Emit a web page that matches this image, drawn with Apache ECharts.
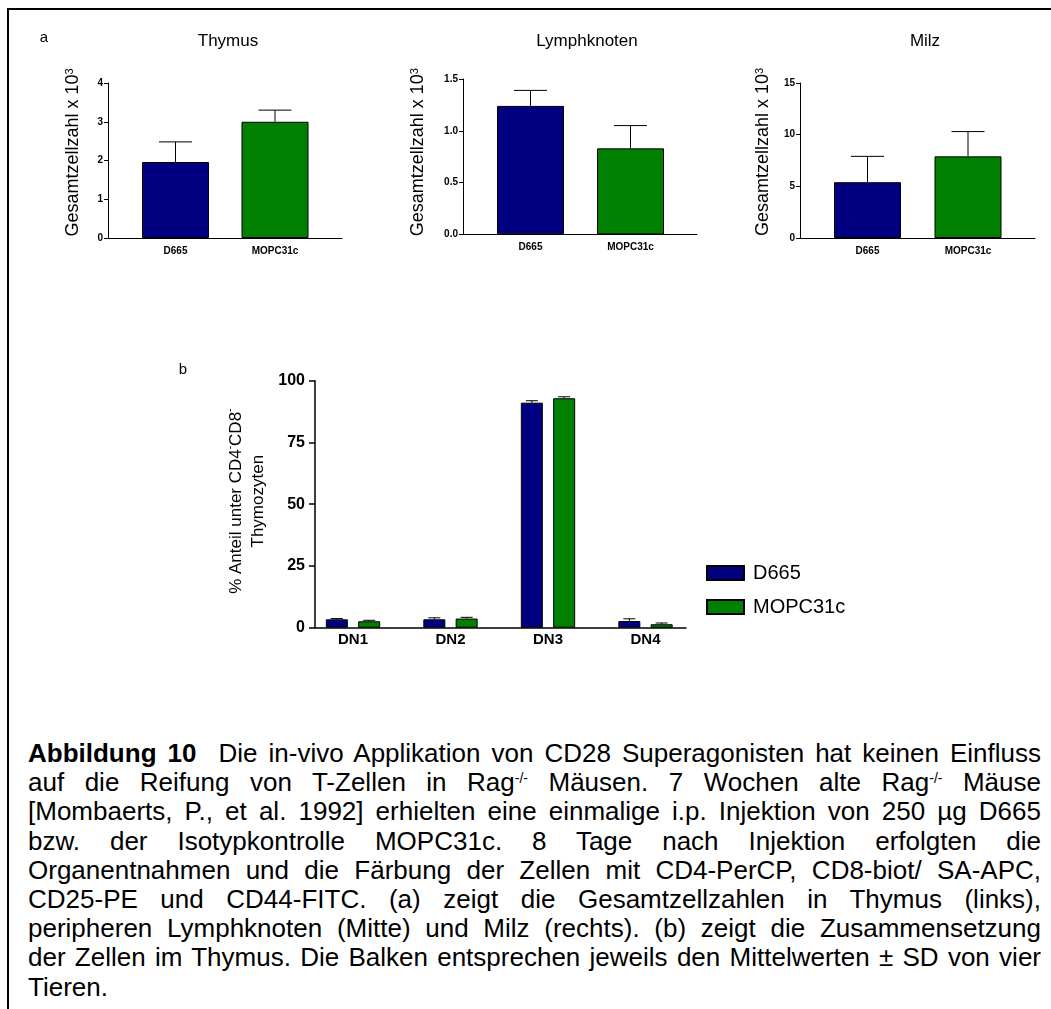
<!DOCTYPE html>
<html>
<head>
<meta charset="utf-8">
<script src="https://cdn.jsdelivr.net/npm/echarts@6/dist/echarts.min.js"></script>
<style>
  html, body { margin: 0; padding: 0; background: #fff; }
  #wrap { position: relative; width: 1051px; height: 1009px; overflow: hidden; }
  #chart { position: absolute; left: 0; top: 0; width: 1051px; height: 700px; }
  #frame { position: absolute; left: 7px; top: 8px; width: 1100px; height: 1100px;
           border-top: 2px solid #000; border-left: 2px solid #000; }
  #caption { position: absolute; left: 28px; top: 739px; width: 1013px;
             font-family: "Liberation Sans", Arial, sans-serif; font-size: 26px;
             line-height: 29.2px; color: #000; }
  #caption div { text-align: justify; text-align-last: justify; }
  #caption div.last { text-align: left; text-align-last: left; }
  #caption sup { font-size: 14px; line-height: 0; vertical-align: 0.6em; }
</style>
</head>
<body>
<div id="wrap">
  <div id="frame"></div>
  <div id="chart"></div>
  <div id="caption">
    <div><b>Abbildung 10</b>&nbsp; Die in-vivo Applikation von CD28 Superagonisten hat keinen Einfluss</div>
    <div>auf die Reifung von T-Zellen in Rag<sup>-/-</sup> Mäusen. 7 Wochen alte Rag<sup>-/-</sup> Mäuse</div>
    <div>[Mombaerts, P., et al. 1992] erhielten eine einmalige i.p. Injektion von 250 µg D665</div>
    <div>bzw. der Isotypkontrolle MOPC31c. 8 Tage nach Injektion erfolgten die</div>
    <div>Organentnahmen und die Färbung der Zellen mit CD4-PerCP, CD8-biot/ SA-APC,</div>
    <div>CD25-PE und CD44-FITC. (a) zeigt die Gesamtzellzahlen in Thymus (links),</div>
    <div>peripheren Lymphknoten (Mitte) und Milz (rechts). (b) zeigt die Zusammensetzung</div>
    <div>der Zellen im Thymus. Die Balken entsprechen jeweils den Mittelwerten ± SD von vier</div>
    <div class="last">Tieren.</div>
  </div>
</div>
<script>
// panel a: total cell counts (x 10^3), mean and SD
const groups = ['D665', 'MOPC31c'];
const groupColors = ['#000080', '#008000'];
const thymusMean = [1.96, 3.0];
const thymusSD = [0.52, 0.3];
const lymphMean = [1.24, 0.83];
const lymphSD = [0.15, 0.22];
const milzMean = [5.4, 7.9];
const milzSD = [2.5, 2.4];
// y axis ranges [min, max, interval]
const thymusAxis = [0, 4, 1];
const lymphAxis = [0, 1.5, 0.5];
const milzAxis = [0, 15, 5];

// panel b: DN subsets in % of CD4-CD8- thymocytes
const stages = ['DN1', 'DN2', 'DN3', 'DN4'];
const d665Mean = [3.4, 3.4, 91.1, 2.7];
const d665SD = [0.3, 0.6, 0.8, 0.9];
const mopcMean = [2.6, 3.7, 92.9, 1.4];
const mopcSD = [0.4, 0.5, 0.6, 0.5];
const dnAxis = [0, 100, 25];

const FONT = '"Liberation Sans", Arial, sans-serif';
const chart = echarts.init(document.getElementById('chart'));

// upper error whisker drawn through the axis scales
function errRender(offset, cap) {
  return function (params, api) {
    const x = api.value(0), m = api.value(1), sd = api.value(2);
    const base = api.coord([x, m]);
    const top = api.coord([x, m + sd]);
    const cx = base[0] + offset;
    const st = { stroke: '#000', lineWidth: 1 };
    return {
      type: 'group',
      children: [
        { type: 'line', shape: { x1: cx, y1: base[1], x2: cx, y2: top[1] }, style: st },
        { type: 'line', shape: { x1: cx - cap / 2, y1: top[1], x2: cx + cap / 2, y2: top[1] }, style: st }
      ]
    };
  };
}

// each panel: a "bar" grid for the marks and an "axis" grid for the drawn axes
const panels = [
  { mean: thymusMean, sd: thymusSD, ax: thymusAxis, bar: [125.75, 83, 199, 155], axis: [108, 83, 234, 155], gap: 26, shift: 16, fmt: v => String(v) },
  { mean: lymphMean, sd: lymphSD, ax: lymphAxis, bar: [480.5, 79, 200, 155.3], axis: [463, 79, 234, 155.3], gap: 36, shift: 9, fmt: v => v.toFixed(1) },
  { mean: milzMean, sd: milzSD, ax: milzAxis, bar: [817.25, 83, 201, 155], axis: [800, 83, 235, 155], gap: 28, shift: 17, fmt: v => String(v) }
];

const grid = [], xAxis = [], yAxis = [], series = [];

panels.forEach((p, i) => {
  const bi = grid.length;
  grid.push({ left: p.bar[0], top: p.bar[1], width: p.bar[2], height: p.bar[3] });
  grid.push({ left: p.axis[0], top: p.axis[1], width: p.axis[2], height: p.axis[3] });
  xAxis.push({
    type: 'category', gridIndex: bi, data: groups,
    axisLine: { show: false }, axisTick: { show: false },
    axisLabel: { color: '#000', fontFamily: FONT, fontWeight: 'bold', fontSize: 10, margin: 8 }
  });
  xAxis.push({
    type: 'category', gridIndex: bi + 1, data: groups,
    axisLine: { lineStyle: { color: '#000', width: 1 } },
    axisTick: { show: false }, axisLabel: { show: false }
  });
  yAxis.push({ type: 'value', gridIndex: bi, min: p.ax[0], max: p.ax[1], show: false });
  yAxis.push({
    type: 'value', gridIndex: bi + 1, min: p.ax[0], max: p.ax[1], interval: p.ax[2],
    splitLine: { show: false },
    axisLine: { show: true, lineStyle: { color: '#000', width: 1 } },
    axisTick: { show: true, length: 4, lineStyle: { color: '#000' } },
    axisLabel: { color: '#000', fontFamily: FONT, fontWeight: 'bold', fontSize: 10, margin: 5, formatter: p.fmt },
    name: 'Gesamtzellzahl x 10{sup|3}',
    nameLocation: 'middle', nameRotate: 90, nameGap: p.gap,
    nameTextStyle: {
      color: '#000', fontFamily: FONT, fontSize: 18, padding: [0, 0, 0, p.shift],
      rich: { sup: { fontSize: 11, fontFamily: FONT, color: '#000', verticalAlign: 'top', lineHeight: 12 } }
    }
  });
  series.push({
    type: 'bar', xAxisIndex: bi, yAxisIndex: bi, barWidth: 67,
    data: p.mean.map((v, k) => ({ value: v, itemStyle: { color: groupColors[k] } })),
    itemStyle: { borderColor: '#000', borderWidth: 1 },
    silent: true
  });
  series.push({
    type: 'custom', xAxisIndex: bi, yAxisIndex: bi, z: 5, silent: true,
    data: p.mean.map((v, k) => [k, v, p.sd[k]]),
    renderItem: errRender(0, 33)
  });
});

// panel b
const dnBar = grid.length;
grid.push({ left: 304.25, top: 380.7, width: 390, height: 247 });
grid.push({ left: 315, top: 380.7, width: 371, height: 247 });
xAxis.push({
  type: 'category', gridIndex: dnBar, data: stages,
  axisLine: { show: false }, axisTick: { show: false },
  axisLabel: { color: '#000', fontFamily: FONT, fontWeight: 'bold', fontSize: 15, margin: 5 }
});
xAxis.push({
  type: 'category', gridIndex: dnBar + 1, data: stages,
  axisLine: { lineStyle: { color: '#000', width: 1.5 } },
  axisTick: { show: false }, axisLabel: { show: false }
});
yAxis.push({ type: 'value', gridIndex: dnBar, min: dnAxis[0], max: dnAxis[1], show: false });
yAxis.push({
  type: 'value', gridIndex: dnBar + 1, min: dnAxis[0], max: dnAxis[1], interval: dnAxis[2],
  splitLine: { show: false },
  axisLine: { show: true, lineStyle: { color: '#000', width: 1.5 } },
  axisTick: { show: true, length: 6, lineStyle: { color: '#000', width: 1.5 } },
  axisLabel: { color: '#000', fontFamily: FONT, fontWeight: 'bold', fontSize: 16, margin: 10 },
  name: '% Anteil unter CD4{sup|-}CD8{sup|-}\nThymozyten',
  nameLocation: 'middle', nameRotate: 90, nameGap: 46,
  nameTextStyle: {
    color: '#000', fontFamily: FONT, fontSize: 17, lineHeight: 22, padding: [0, 0, 0, 6],
    rich: { sup: { fontSize: 10, fontFamily: FONT, color: '#000', verticalAlign: 'top', lineHeight: 10 } }
  }
});
[['D665', d665Mean, groupColors[0]], ['MOPC31c', mopcMean, groupColors[1]]].forEach(s => {
  series.push({
    type: 'bar', name: s[0], xAxisIndex: dnBar, yAxisIndex: dnBar,
    barWidth: 22, barGap: '47%', data: s[1],
    itemStyle: { color: s[2], borderColor: '#000', borderWidth: 1 },
    silent: true
  });
});
[[d665Mean, d665SD, -16.15], [mopcMean, mopcSD, 16.15]].forEach(s => {
  series.push({
    type: 'custom', xAxisIndex: dnBar, yAxisIndex: dnBar, z: 5, silent: true,
    data: s[0].map((v, k) => [k, v, s[1][k]]),
    renderItem: errRender(s[2], 12)
  });
});

function label(text, x, y, size) {
  return {
    type: 'text', x: x, y: y, silent: true,
    style: { text: text, fill: '#000', font: size + 'px ' + FONT, textAlign: 'center', textVerticalAlign: 'middle' }
  };
}

chart.setOption({
  animation: false,
  grid: grid,
  xAxis: xAxis,
  yAxis: yAxis,
  series: series,
  legend: {
    data: ['D665', 'MOPC31c'],
    orient: 'vertical', left: 701, top: 558,
    itemWidth: 37, itemHeight: 14, itemGap: 14,
    icon: 'rect',
    textStyle: { color: '#000', fontFamily: FONT, fontSize: 20, padding: [0, 0, 0, 4] },
    selectedMode: false
  },
  graphic: [
    label('a', 44, 38, 15),
    label('b', 183, 370, 15),
    label('Thymus', 228, 41, 17),
    label('Lymphknoten', 587, 41, 17),
    label('Milz', 925, 41, 17)
  ]
});
</script>
</body>
</html>
